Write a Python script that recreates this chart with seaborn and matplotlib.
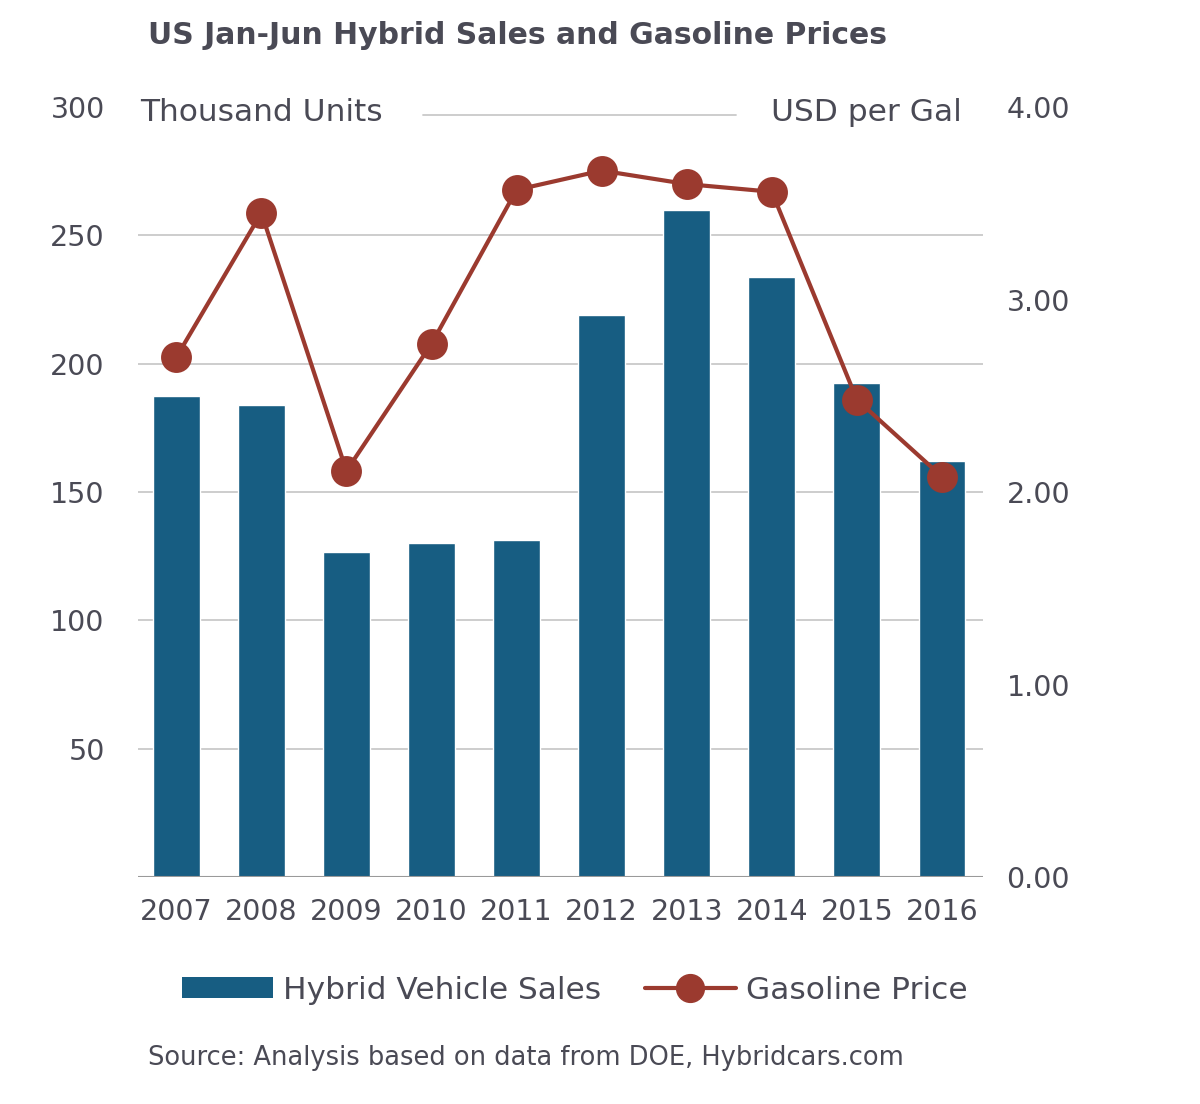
import matplotlib
matplotlib.use("Agg")
import matplotlib.pyplot as plt
import seaborn as sns
import pandas as pd
from matplotlib.patches import Patch
from matplotlib.lines import Line2D

years = ["2007", "2008", "2009", "2010", "2011", "2012", "2013", "2014", "2015", "2016"]
sales = [187.4, 183.9, 126.6, 130.1, 131.3, 218.9, 259.8, 233.7, 192.4, 162.0]
price = [2.70, 3.45, 2.11, 2.77, 3.57, 3.67, 3.60, 3.56, 2.48, 2.08]
left_ticks = [50, 100, 150, 200, 250, 300]
right_ticks = [0.0, 1.0, 2.0, 3.0, 4.0]

sns.set_theme(style="white")
plt.rcParams['font.family'] = ['DejaVu Sans']

BAR = "#175d82"
LINE = "#9b3a2f"
TXT = "#4a4a55"
GRID = "#c9c9c9"

df = pd.DataFrame({"year": years, "sales": sales, "price": price})

fig = plt.figure(figsize=(12, 11.04), dpi=100)
ax = fig.add_axes([0.115, 0.2056, 0.704, 0.6974])

for v in left_ticks[:-1]:
    ax.axhline(v, color=GRID, lw=1.3, zorder=0)
ax.axhline(297, xmin=0.337, xmax=0.708, color=GRID, lw=1.3, zorder=0)
ax.axhline(0, color="#9a9a9a", lw=1.5, zorder=3)

sns.barplot(data=df, x="year", y="sales", color=BAR, width=0.55, saturation=1, ax=ax, zorder=2)
ax.set_ylim(0, 300)
ax.set_xlim(-0.45, 9.48)
ax.set_yticks(left_ticks)
ax.set_yticklabels([str(t) for t in left_ticks])
ax.tick_params(axis='y', length=0, pad=24, labelsize=20.5, labelcolor=TXT)
ax.tick_params(axis='x', length=0, pad=15, labelsize=20.5, labelcolor=TXT)
ax.set_xlabel("")
ax.set_ylabel("")
for s in ax.spines.values():
    s.set_visible(False)

ax2 = ax.twinx()
sns.pointplot(data=df, x="year", y="price", color=LINE, markers="o", markersize=20,
              linewidth=3, ax=ax2, zorder=5)
ax2.set_ylim(0, 4)
ax2.set_xlim(-0.45, 9.48)
ax2.set_yticks(right_ticks)
ax2.set_yticklabels([f"{t:.2f}" for t in right_ticks])
ax2.tick_params(axis='y', length=0, pad=17, labelsize=20.5, labelcolor=TXT)
ax2.set_ylabel("")
ax2.set_xlabel("")
for s in ax2.spines.values():
    s.set_visible(False)

fig.text(0.123, 0.968, "US Jan-Jun Hybrid Sales and Gasoline Prices", fontsize=21.5,
         fontweight="bold", color=TXT, va="center", ha="left")
ax.text(0.002, 298, "Thousand Units", transform=ax.get_yaxis_transform(), fontsize=22.5,
        color=TXT, va="center", ha="left")
ax.text(0.975, 298, "USD per Gal", transform=ax.get_yaxis_transform(), fontsize=22.5,
        color=TXT, va="center", ha="right")

handles = [Patch(facecolor=BAR, edgecolor="none"),
           Line2D([0], [0], color=LINE, lw=3, marker="o", markersize=20)]
fig.legend(handles, ["Hybrid Vehicle Sales", "Gasoline Price"], loc="center",
           bbox_to_anchor=(0.479, 0.103), ncol=2, frameon=False, fontsize=22.5,
           labelcolor=TXT, handlelength=2.9, handleheight=0.65, handletextpad=0.32,
           columnspacing=1.4)

fig.text(0.123, 0.042, "Source: Analysis based on data from DOE, Hybridcars.com",
         fontsize=18.5, color=TXT, va="center", ha="left")

fig.savefig("out.png", dpi=100, facecolor="white")
